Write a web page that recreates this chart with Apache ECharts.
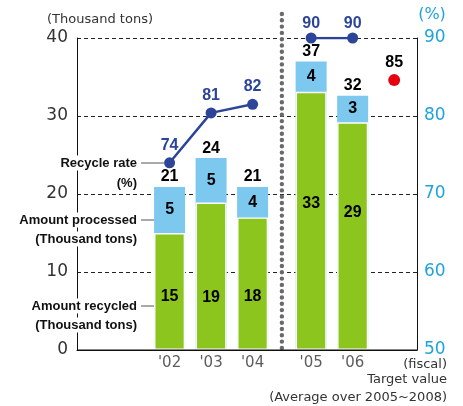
<!DOCTYPE html>
<html><head><meta charset="utf-8">
<script src="https://cdn.jsdelivr.net/npm/echarts@6/dist/echarts.min.js"></script>
<style>html,body{margin:0;padding:0;background:#fff}#c{width:463px;height:406px}</style>
</head><body><div id="c"></div>
<script>
// ---- data ----
const categories = ["'02", "'03", "'04", "'05", "'06"];
const recycled = [15.0, 18.9, 17.0, 33.1, 29.2];          // bar heights (thousand tons)
const processed = [5.9, 5.7, 3.9, 3.9, 3.4];             // bar heights (thousand tons)
const recycledLabels = [15, 19, 18, 33, 29];
const processedLabels = [5, 5, 4, 4, 3];
const totalLabels = [21, 24, 21, 37, 32];
const rate = [74, 80.4, 81.5, 90, 90];                  // %
const rateLabels = [74, 81, 82, 90, 90];
const targetRate = 84.6;
const targetLabel = 85;
const leftTicks = [0, 10, 20, 30, 40];
const rightTicks = [50, 60, 70, 80, 90];

// ---- layout helpers ----
const GAP = 0.41;                    // extra spacing after the dotted separator
const xPos = i => i + (i >= 3 ? GAP : 0);
const SEP_X = 2 + (1 + GAP) / 2;
const recycledLabelDy = [5, 21, 13, -17, -24];   // label nudges (px) inside green bars

const NAVY = '#2c4599', GREEN = '#8dc51f', BLUE = '#7cc8ef', CYAN = '#1fa3dd', RED = '#e60012';
const LBL_FONT = '"Liberation Sans", Arial, sans-serif';

const totals = recycled.map((v, i) => v + processed[i]);
const processedMid = recycled.map((v, i) => v + processed[i] / 2);

const chart = echarts.init(document.getElementById('c'), null, {renderer: 'canvas'});

const numLabel = {color: '#000', fontWeight: 'bold', fontSize: 16, fontFamily: LBL_FONT};

const option = {
  animation: false,
  grid: {left: 77, right: 46, top: 38, bottom: 56},
  xAxis: {
    type: 'value', min: -2.23, max: 5.96,
    axisLine: {show: true, onZero: false, lineStyle: {color: '#111', width: 1}},
    axisTick: {show: false}, axisLabel: {show: false}, splitLine: {show: false}
  },
  yAxis: [{
    type: 'value', min: leftTicks[0], max: leftTicks[leftTicks.length - 1], interval: 10,
    position: 'left',
    axisLine: {show: true, onZero: false, lineStyle: {color: '#111', width: 1}},
    axisTick: {show: false},
    axisLabel: {color: '#333', fontSize: 17, fontFamily: '"DejaVu Sans", sans-serif', margin: 9},
    splitLine: {show: true, lineStyle: {color: '#222', type: [4, 3], width: 1}}
  }, {
    type: 'value', min: rightTicks[0], max: rightTicks[rightTicks.length - 1], interval: 10,
    position: 'right',
    axisLine: {show: true, onZero: false, lineStyle: {color: '#111', width: 1}},
    axisTick: {show: false},
    axisLabel: {color: CYAN, fontSize: 17, fontFamily: '"DejaVu Sans", sans-serif', margin: 7},
    splitLine: {show: false}
  }],
  series: [
    {
      // full bar (recycled + processed); the processed part is what stays visible
      type: 'bar', name: 'processed', barWidth: 31, barGap: '-100%',
      data: totals.map((v, i) => [xPos(i), v]),
      itemStyle: {color: BLUE},
      label: Object.assign({show: true, position: 'top', distance: 2,
        formatter: p => totalLabels[p.dataIndex]}, numLabel),
      z: 2
    },
    {
      type: 'bar', name: 'recycled', barWidth: 31, barGap: '-100%',
      data: recycled.map((v, i) => ({value: [xPos(i), v], label: {offset: [0, recycledLabelDy[i]]}})),
      itemStyle: {color: GREEN, borderColor: '#fff', borderWidth: 1.4},
      label: Object.assign({show: true, position: 'inside',
        formatter: p => recycledLabels[p.dataIndex]}, numLabel),
      z: 3
    },
    {
      type: 'line', name: 'processedLabels', symbol: 'circle', symbolSize: 1,
      itemStyle: {color: BLUE}, lineStyle: {opacity: 0, width: 0},
      data: processedMid.map((v, i) => [xPos(i), v]),
      label: Object.assign({show: true, position: 'inside',
        formatter: p => processedLabels[p.dataIndex]}, numLabel),
      silent: true, z: 4
    },
    {
      type: 'line', name: 'rate1', yAxisIndex: 1, symbol: 'circle', symbolSize: 11,
      data: rate.slice(0, 3).map((v, i) => [xPos(i), v]),
      lineStyle: {color: NAVY, width: 2.5}, itemStyle: {color: NAVY},
      label: {show: true, position: 'top', distance: 4, color: NAVY, fontWeight: 'bold', fontSize: 16,
        fontFamily: LBL_FONT, formatter: p => rateLabels[p.dataIndex]},
      z: 5
    },
    {
      type: 'line', name: 'rate2', yAxisIndex: 1, symbol: 'circle', symbolSize: 11,
      data: rate.slice(3).map((v, j) => [xPos(j + 3), v]),
      lineStyle: {color: NAVY, width: 2.5}, itemStyle: {color: NAVY},
      label: {show: true, position: 'top', distance: 1, color: NAVY, fontWeight: 'bold', fontSize: 16,
        fontFamily: LBL_FONT, formatter: p => rateLabels[p.dataIndex + 3]},
      z: 5
    },
    {
      type: 'line', name: 'target', yAxisIndex: 1, symbol: 'circle', symbolSize: 12,
      data: [[xPos(5), targetRate]],
      itemStyle: {color: RED}, lineStyle: {opacity: 0},
      label: Object.assign({show: true, position: 'top', distance: 4,
        formatter: () => targetLabel}, numLabel),
      z: 5
    },
    {
      type: 'scatter', name: 'xlabels', symbolSize: 1, itemStyle: {color: 'rgba(0,0,0,0)'},
      data: categories.map((c, i) => [xPos(i), 0]),
      label: {show: true, position: 'bottom', distance: 5, color: '#333', fontSize: 15,
        fontFamily: '"DejaVu Sans", sans-serif', formatter: p => categories[p.dataIndex]},
      silent: true, z: 3
    }
  ]
};
chart.setOption(option);

const sepPx = chart.convertToPixel({xAxisIndex: 0}, SEP_X);
const yBottom = chart.convertToPixel({yAxisIndex: 0}, 0);

const annFont = 'bold 13px "Liberation Sans", Arial, sans-serif';
const smallFont = '13px "DejaVu Sans", sans-serif';
function ann(text, x, y) {
  return {type: 'text', x: x, y: y, z: 100,
    style: {text: text, font: annFont, fill: '#111', align: 'right', verticalAlign: 'middle',
      backgroundColor: '#fff', padding: [1, 2, 1, 2]}};
}
function seg(x1, y1, x2, y2) {
  return {type: 'line', z: 100, shape: {x1: x1, y1: y1, x2: x2, y2: y2},
    style: {stroke: '#555', lineWidth: 1}};
}

chart.setOption({
  graphic: [
    {type: 'line', z: 4, shape: {x1: sepPx, y1: 14, x2: sepPx, y2: yBottom},
      style: {stroke: '#6a6a6a', lineWidth: 4.4, lineDash: [0, 6.3], lineCap: 'round'}},
    {type: 'line', z: 4, shape: {x1: 77, y1: yBottom, x2: 417, y2: yBottom},
      style: {stroke: '#111', lineWidth: 1}},
    {type: 'text', x: 100, y: 20, z: 100,
      style: {text: '(Thousand tons)', font: smallFont, fill: '#333', align: 'center', verticalAlign: 'middle'}},
    {type: 'text', x: 432, y: 15, z: 100,
      style: {text: '(%)', font: '16px "DejaVu Sans", sans-serif', fill: CYAN, align: 'center', verticalAlign: 'middle'}},
    {type: 'text', x: 447, y: 365, z: 100,
      style: {text: '(fiscal)', font: smallFont, fill: '#333', align: 'right', verticalAlign: 'middle'}},
    {type: 'text', x: 447, y: 380, z: 100,
      style: {text: 'Target value', font: smallFont, fill: '#333', align: 'right', verticalAlign: 'middle'}},
    {type: 'text', x: 447, y: 398, z: 100,
      style: {text: '(Average over 2005~2008)', font: smallFont, fill: '#333', align: 'right', verticalAlign: 'middle'}},
    ann('Recycle rate', 139, 163),
    ann('(%)', 139, 183),
    ann('Amount processed', 139, 220),
    ann('(Thousand tons)', 139, 239),
    ann('Amount recycled', 139, 306),
    ann('(Thousand tons)', 139, 325),
    seg(141, 163, 164, 163),
    seg(141, 220, 154, 220),
    seg(141, 306, 154, 306)
  ]
});
</script>
</body></html>
